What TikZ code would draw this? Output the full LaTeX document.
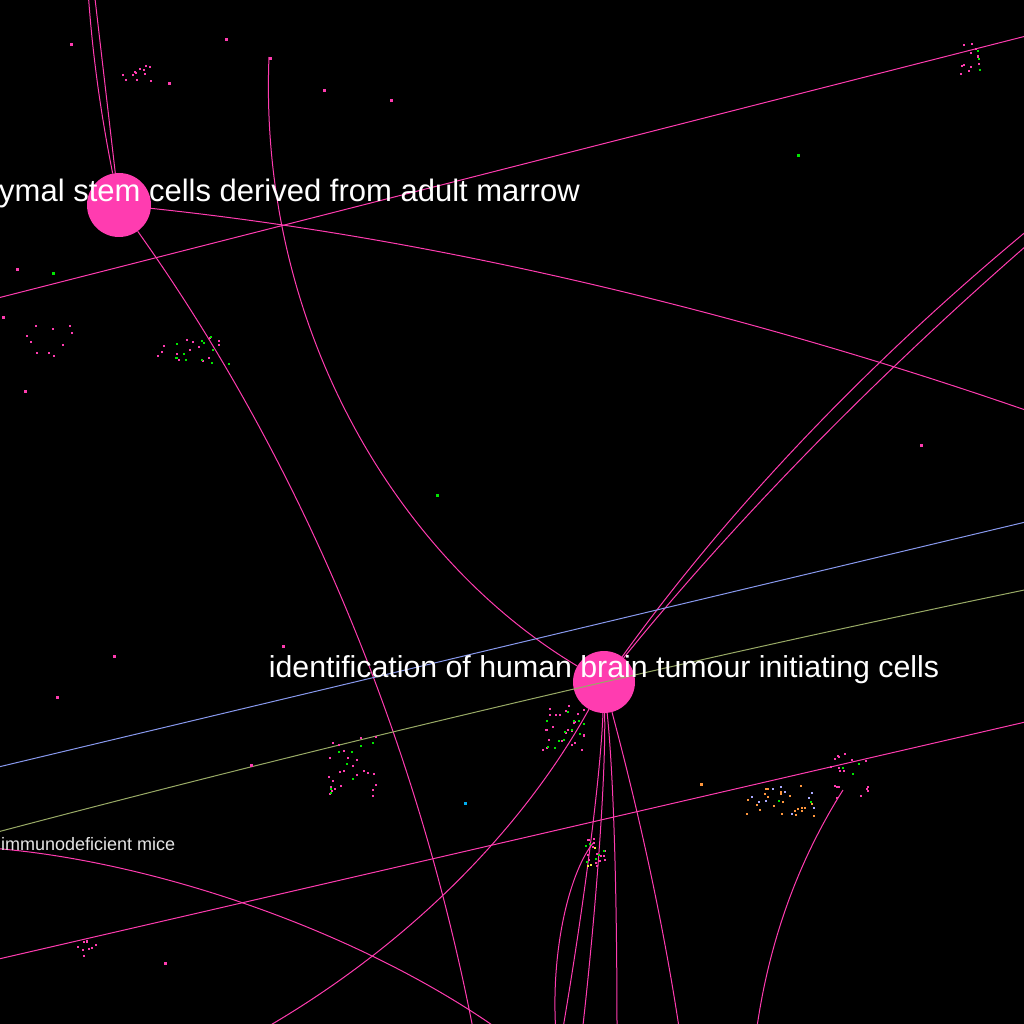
\documentclass[tikz,border=0pt]{standalone}
\usepackage{fontspec}
\setmainfont{Liberation Sans}
\definecolor{hubpink}{RGB}{255,60,176}
\definecolor{edgeblue}{RGB}{136,153,238}
\definecolor{edgeolive}{RGB}{153,170,102}
\definecolor{dotgreen}{RGB}{0,230,0}
\definecolor{dotorange}{RGB}{255,150,60}
\definecolor{dotlilac}{RGB}{170,170,255}
\definecolor{dotyellow}{RGB}{240,240,60}
\tikzstyle{hub} = [circle, fill=hubpink, inner sep=0pt, minimum size=62pt]
\tikzstyle{tag} = [text=white, inner sep=0pt, font=\fontsize{30.3}{36}\selectfont]
\tikzstyle{smalltag} = [text=white!90!black, inner sep=0pt, font=\fontsize{18}{22}\selectfont]
\tikzstyle{line} = [draw=hubpink, line width=1pt]
\tikzstyle{blueline} = [draw=edgeblue, line width=1pt]
\tikzstyle{oliveline} = [draw=edgeolive, line width=1pt]
% x y rx ry count colour
\newcommand{\speckles}[6]{\foreach \k in {1,...,#5} {\fill[#6] ({#1+#3*rand},{#2+#4*rand}) rectangle ++(2,2);}}

\begin{document}
\begin{tikzpicture}[x=1pt, y=-1pt]
    \useasboundingbox (0,0) rectangle (1024,1024);
    \fill[black] (0,0) rectangle (1024,1024);
    \clip (0,0) rectangle (1024,1024);
    \pgfmathsetseed{7}

    % Place nodes
    \node [hub, minimum size=64pt] (marrow) at (119,205) {};
    \node [hub] (brain) at (604,682) {};
    \coordinate (arcend) at (269,57);
    \coordinate (tick) at (594,842);
    \coordinate (knot) at (843,790);
    \coordinate (mice) at (-10,848);
    \coordinate (w1) at (-10,300);
    \coordinate (e1) at (1034,34);
    \coordinate (e2) at (1034,413);
    \coordinate (s3) at (474,1034);
    \coordinate (n4) at (88,-10);
    \coordinate (n5) at (94,-10);
    \coordinate (e7) at (1034,225);
    \coordinate (e8) at (1034,239);
    \coordinate (wb) at (-10,769);
    \coordinate (eb) at (1034,520);
    \coordinate (wo) at (-10,834);
    \coordinate (eo) at (1034,588);
    \coordinate (wp) at (-10,961);
    \coordinate (ep) at (1034,720);
    \coordinate (sm) at (505,1034);
    \coordinate (s13) at (255,1034);
    \coordinate (b1) at (562,1034);
    \coordinate (b2) at (582,1034);
    \coordinate (b3) at (617,1034);
    \coordinate (b4) at (680,1034);
    \coordinate (b5) at (556,1034);
    \coordinate (b6) at (756,1034);

    % Draw edges
    \path [line] (w1) -- (e1);
    \path [line] (marrow) .. controls (424,237) and (729,307) .. (e2);
    \path [line] (marrow) .. controls (297,455) and (416,732) .. (s3);
    \path [line] (marrow) .. controls (100,110) and (92,50) .. (n4);
    \path [line] (marrow) -- (n5);
    \path [line] (arcend) .. controls (258,330) and (400,560) .. (brain);
    \path [line] (brain) .. controls (724,515) and (864,365) .. (e7);
    \path [line] (brain) .. controls (734,522) and (874,378) .. (e8);
    \path [blueline] (wb) -- (eb);
    \path [oliveline] (wo) .. controls (338,742) and (686,660) .. (eo);
    \path [line] (wp) -- (ep);
    \path [line] (mice) .. controls (150,860) and (360,930) .. (sm);
    \path [line] (brain) .. controls (521,832) and (404,950) .. (s13);
    \path [line] (brain) .. controls (601,770) and (585,900) .. (b1);
    \path [line] (brain) .. controls (606,780) and (595,920) .. (b2);
    \path [line] (brain) .. controls (614,780) and (617,900) .. (b3);
    \path [line] (brain) .. controls (630,780) and (660,900) .. (b4);
    \path [line] (tick) .. controls (570,870) and (550,950) .. (b5);
    \path [line] (knot) .. controls (805,850) and (770,930) .. (b6);

    % Specks
    \speckles{135}{72}{20}{8}{12}{hubpink}
    \speckles{50}{340}{25}{15}{10}{hubpink}
    \speckles{195}{350}{40}{15}{15}{hubpink}
    \speckles{195}{350}{40}{15}{12}{dotgreen}
    \speckles{563}{727}{22}{22}{25}{hubpink}
    \speckles{563}{727}{22}{22}{12}{dotgreen}
    \speckles{353}{765}{28}{30}{25}{hubpink}
    \speckles{353}{765}{28}{30}{8}{dotgreen}
    \speckles{594}{852}{10}{15}{15}{hubpink}
    \speckles{594}{852}{10}{15}{6}{dotgreen}
    \speckles{594}{852}{10}{15}{3}{dotyellow}
    \speckles{780}{800}{35}{15}{25}{dotorange}
    \speckles{780}{800}{35}{15}{10}{dotlilac}
    \speckles{780}{800}{35}{15}{2}{dotgreen}
    \speckles{850}{775}{20}{22}{18}{hubpink}
    \speckles{850}{775}{20}{22}{3}{dotgreen}
    \speckles{970}{58}{12}{15}{12}{hubpink}
    \speckles{970}{58}{12}{15}{3}{dotgreen}
    \speckles{87}{950}{10}{10}{10}{hubpink}
    \foreach \x/\y/\c in {16/268/hubpink, 52/272/dotgreen, 797/154/dotgreen, 436/494/dotgreen,
        920/444/hubpink, 323/89/hubpink, 390/99/hubpink, 225/38/hubpink, 70/43/hubpink,
        113/655/hubpink, 464/802/cyan, 56/696/hubpink, 164/962/hubpink, 282/645/hubpink,
        250/764/hubpink, 700/783/dotorange, 168/82/hubpink, 2/316/hubpink, 24/390/hubpink}
        \fill[\c] (\x,\y) rectangle ++(3,3);
    \fill[hubpink] (arcend) rectangle ++(3,3);

    % Labels
    \node [tag, anchor=base] (brainlbl) at ([yshift=5pt]brain.center) {identification of human brain tumour initiating cells};
    \node [tag, font=\fontsize{31}{37}\selectfont, anchor=base east] (marrowlbl) at (580,202) {mesenchymal stem cells derived from adult marrow};
    \node [smalltag, anchor=base west] (micelbl) at (1,850) {immunodeficient mice};
\end{tikzpicture}
\end{document}
